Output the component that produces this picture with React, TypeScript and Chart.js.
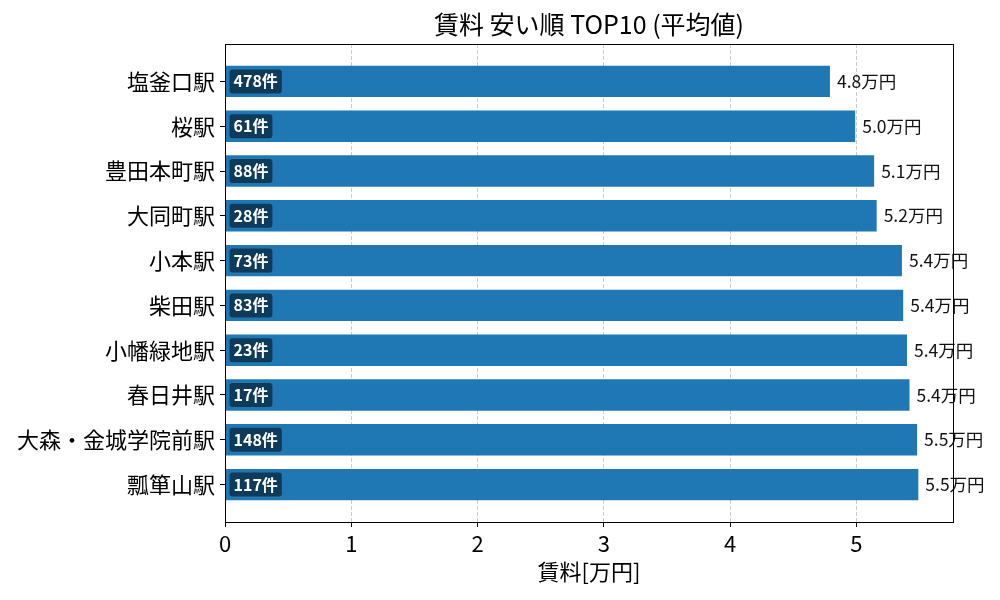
import { useRef, useEffect } from 'react'
import { Chart, registerables } from 'chart.js'
import type { ChartOptions, Plugin } from 'chart.js'

Chart.register(...registerables)

const FONT = "'Noto Sans CJK JP', 'Noto Sans', sans-serif"

// データ（安い順）
const stations = [
  '塩釜口駅',
  '桜駅',
  '豊田本町駅',
  '大同町駅',
  '小本駅',
  '柴田駅',
  '小幡緑地駅',
  '春日井駅',
  '大森・金城学院前駅',
  '瓢箪山駅',
]
const rents = [4.79, 4.99, 5.14, 5.16, 5.36, 5.37, 5.4, 5.42, 5.48, 5.49]
const counts = [478, 61, 88, 28, 73, 83, 23, 17, 148, 117]
const xTicks = [0, 1, 2, 3, 4, 5]

// 件数バッジと金額ラベル
const barLabels: Plugin = {
  id: 'barLabels',
  afterDatasetsDraw(chart) {
    const ctx = chart.ctx
    const meta = chart.getDatasetMeta(0)
    ctx.save()
    meta.data.forEach((el: any, i) => {
      const y = el.y
      const base = el.base
      const end = el.x

      // 件数バッジ
      const text = `${counts[i]}件`
      ctx.font = `bold 16px ${FONT}`
      const w = ctx.measureText(text).width
      const bx = base + 4
      const bh = 24
      ctx.fillStyle = 'rgba(0, 0, 0, 0.5)'
      ctx.beginPath()
      ctx.roundRect(bx, y - bh / 2, w + 8, bh, 3)
      ctx.fill()
      ctx.fillStyle = '#fff'
      ctx.textBaseline = 'middle'
      ctx.textAlign = 'left'
      ctx.fillText(text, bx + 4, y)

      // 金額
      ctx.font = `17.5px ${FONT}`
      ctx.fillStyle = '#111'
      ctx.fillText(`${rents[i].toFixed(1)}万円`, end + 7, y)
    })
    ctx.restore()
  },
}

// 枠線（上・右も）
const frame: Plugin = {
  id: 'frame',
  afterDraw(chart) {
    const { ctx, chartArea } = chart
    ctx.save()
    ctx.strokeStyle = '#000'
    ctx.lineWidth = 1
    ctx.strokeRect(
      Math.round(chartArea.left) + 0.5,
      Math.round(chartArea.top) + 0.5,
      Math.round(chartArea.right - chartArea.left),
      Math.round(chartArea.bottom - chartArea.top)
    )
    ctx.restore()
  },
}

export default function App() {
  const chartRef = useRef<HTMLCanvasElement>(null)
  const chartInstance = useRef<Chart | null>(null)

  useEffect(() => {
    if (!chartRef.current) return
    if (chartInstance.current) {
      chartInstance.current.destroy()
    }
    const ctx = chartRef.current.getContext('2d')
    if (!ctx) return

    Chart.defaults.font.family = FONT
    Chart.defaults.color = '#000'

    const options: ChartOptions<'bar'> = {
      indexAxis: 'y',
      responsive: true,
      maintainAspectRatio: false,
      animation: false,
      layout: { padding: { left: 0, right: 47, top: 0, bottom: 0 } },
      plugins: {
        legend: { display: false },
        tooltip: { enabled: false },
        title: {
          display: true,
          text: '賃料 安い順 TOP10 (平均値)',
          fullSize: false,
          color: '#000',
          font: { size: 25, weight: 'normal', family: FONT, lineHeight: 1.2 },
          padding: { top: 9, bottom: 5 },
        },
      },
      scales: {
        x: {
          type: 'linear',
          min: 0,
          max: Math.max(...rents) * 1.05,
          afterFit: (s: any) => {
            s.height = 78
          },
          afterBuildTicks: (s: any) => {
            s.ticks = xTicks.map((v) => ({ value: v }))
          },
          ticks: {
            font: { size: 22, family: FONT },
            color: '#000',
            padding: 3,
          },
          grid: {
            color: (c: any) => (c.tick && c.tick.value === 0 ? 'transparent' : '#cccccc'),
            lineWidth: 1,
            tickColor: '#000',
            tickLength: 5,
          },
          border: { color: '#000', width: 1, dash: [4, 2] },
          title: {
            display: true,
            text: '賃料[万円]',
            color: '#000',
            font: { size: 22, family: FONT },
            padding: { top: 0, bottom: 15 },
          },
        },
        y: {
          type: 'linear',
          reverse: true,
          offset: false,
          min: -0.835,
          max: 9.835,
          afterFit: (s: any) => {
            s.width = 225
          },
          afterBuildTicks: (s: any) => {
            s.ticks = stations.map((_, i) => ({ value: i }))
          },
          ticks: {
            autoSkip: false,
            font: { size: 22, family: FONT },
            color: '#000',
            padding: 5,
            callback: (v: any) => stations[v as number] ?? '',
          },
          grid: {
            offset: false,
            drawOnChartArea: false,
            tickColor: '#000',
            tickLength: 5,
          },
          border: { color: '#000', width: 1 },
        },
      },
    }

    chartInstance.current = new Chart(ctx, {
      type: 'bar',
      data: {
        datasets: [
          {
            data: rents.map((v, i) => ({ x: v, y: i })),
            backgroundColor: '#1f77b4',
            borderWidth: 0,
            barPercentage: 0.7,
            categoryPercentage: 1,
          },
        ],
      },
      options,
      plugins: [barLabels, frame],
    })

    return () => {
      if (chartInstance.current) {
        chartInstance.current.destroy()
        chartInstance.current = null
      }
    }
  }, [])

  return (
    <div style={{ position: 'absolute', left: 0, top: 0, width: '1000px', height: '600px', background: '#fff' }}>
      <canvas ref={chartRef} />
    </div>
  )
}
